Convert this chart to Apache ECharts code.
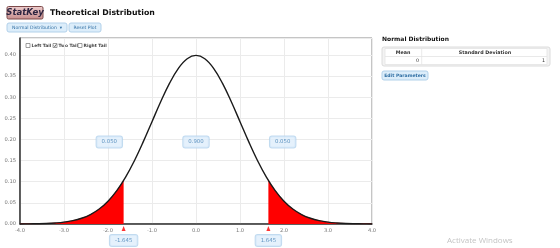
<!DOCTYPE html>
<html><head><meta charset="utf-8">
<script src="https://cdn.jsdelivr.net/npm/echarts@6/dist/echarts.min.js"></script>
<style>html,body{margin:0;padding:0;background:#fff}#c{width:560px;height:248px}</style>
</head><body><div id="c"></div>
<script>
// Curve sample points (x) and density values (y)
var xs = [-4.0,-3.8,-3.6,-3.4,-3.2,-3.0,-2.8,-2.6,-2.4,-2.2,-2.0,-1.8,-1.6,-1.4,-1.2,-1.0,-0.8,-0.6,-0.4,-0.2,0.0,0.2,0.4,0.6,0.8,1.0,1.2,1.4,1.6,1.8,2.0,2.2,2.4,2.6,2.8,3.0,3.2,3.4,3.6,3.8,4.0];
var density = [0.0001,0.0003,0.0006,0.0012,0.0024,0.0044,0.0079,0.0136,0.0224,0.0355,0.0540,0.0790,0.1109,0.1497,0.1942,0.2420,0.2897,0.3332,0.3683,0.3910,0.3989,0.3910,0.3683,0.3332,0.2897,0.2420,0.1942,0.1497,0.1109,0.0790,0.0540,0.0355,0.0224,0.0136,0.0079,0.0044,0.0024,0.0012,0.0006,0.0003,0.0001];
// Cut points and density at the cut points
var cutX = [-1.645, 1.645];
var cutY = [0.103, 0.103];
// Region probabilities and where their boxes sit
var probs = ['0.050', '0.900', '0.050'];
var probX = [-1.97, 0.0, 1.97];
var probY = [0.194, 0.194, 0.194];
var xTicks = [-4, 4, 1];
var yTicks = [0, 0.44, 0.05];

var curve = xs.map(function(x,i){return [x, density[i]];});
var leftTail = curve.filter(function(p){return p[0] < cutX[0];}).concat([[cutX[0], cutY[0]]]);
var rightTail = [[cutX[1], cutY[1]]].concat(curve.filter(function(p){return p[0] > cutX[1];}));

var FONT = 'DejaVu Sans';
var boxLabel = {
  show: true, fontFamily: FONT, fontSize: 5.4, color: '#3f7db3',
  backgroundColor: '#dfeefb', borderColor: '#b3d2ec', borderWidth: 1, borderRadius: 2,
  padding: [3, 5]
};

function btn(x, y, w, h, label, bold) {
  return [
    {type:'rect', shape:{x:x,y:y,width:w,height:h,r:2}, style:{fill:'#dcedfa', stroke:'#b2d1ea', lineWidth:1}},
    {type:'text', x:x+w/2, y:y+h/2, style:{text:label, fill:'#2f6ea3', font:(bold?'bold ':'')+'4.6px '+FONT, textAlign:'center', textVerticalAlign:'middle'}}
  ];
}
function checkbox(x, y, label, checked) {
  var g = [
    {type:'rect', shape:{x:x,y:y,width:4,height:4}, style:{fill:'#fff', stroke:'#777', lineWidth:0.7}},
    {type:'text', x:x+5.5, y:y+2, style:{text:label, fill:'#444', font:'bold 4.4px '+FONT, textVerticalAlign:'middle'}}
  ];
  if (checked) g.push({type:'polyline', shape:{points:[[x+0.8,y+2],[x+1.8,y+3.2],[x+3.4,y+0.7]]}, style:{stroke:'#333', lineWidth:0.7, fill:null}});
  return g;
}

var graphics = [
  {type:'rect', shape:{x:7,y:6.5,width:36,height:12.5,r:1.5}, style:{fill:new echarts.graphic.LinearGradient(0,0,0,1,[{offset:0,color:'#efcfcf'},{offset:1,color:'#c58c8c'}]), stroke:'#7d4a4a', lineWidth:1}},
  {type:'text', x:25, y:13, style:{text:'StatKey', fill:'#2c2440', font:'italic bold 8.5px '+FONT, textAlign:'center', textVerticalAlign:'middle'}},
  {type:'text', x:50, y:13, style:{text:'Theoretical Distribution', fill:'#111', font:'bold 7.8px '+FONT, textVerticalAlign:'middle'}},
  {type:'text', x:382, y:39.5, style:{text:'Normal Distribution', fill:'#111', font:'bold 6px '+FONT, textVerticalAlign:'middle'}},
  {type:'rect', shape:{x:382,y:47,width:168,height:19,r:2}, style:{fill:'#f3f3f3', stroke:'#dcdcdc', lineWidth:1}},
  {type:'rect', shape:{x:385,y:48.5,width:162,height:16}, style:{fill:'#fff', stroke:'#e3e3e3', lineWidth:0.8}},
  {type:'line', shape:{x1:421.7,y1:48.5,x2:421.7,y2:64.5}, style:{stroke:'#e3e3e3', lineWidth:0.8}},
  {type:'line', shape:{x1:385,y1:56.5,x2:547,y2:56.5}, style:{stroke:'#e3e3e3', lineWidth:0.8}},
  {type:'text', x:403, y:52.5, style:{text:'Mean', fill:'#333', font:'bold 4.8px '+FONT, textAlign:'center', textVerticalAlign:'middle'}},
  {type:'text', x:485, y:52.5, style:{text:'Standard Deviation', fill:'#333', font:'bold 4.8px '+FONT, textAlign:'center', textVerticalAlign:'middle'}},
  {type:'text', x:419, y:60.8, style:{text:'0', fill:'#333', font:'4.8px '+FONT, textAlign:'right', textVerticalAlign:'middle'}},
  {type:'text', x:545, y:60.8, style:{text:'1', fill:'#333', font:'4.8px '+FONT, textAlign:'right', textVerticalAlign:'middle'}},
  {type:'text', x:447, y:241, style:{text:'Activate Windows', fill:'#c4c4c4', font:'8px "Open Sans"', textVerticalAlign:'middle'}}
].concat(btn(7,23,60,9,'Normal Distribution  \u25BE',false))
 .concat(btn(69,23,32,9,'Reset Plot',false))
 .concat(btn(382,71,46,9,'Edit Parameters',true))
 .concat(checkbox(26,43.5,'Left Tail',false))
 .concat(checkbox(53,43.5,'Two Tail',true))
 .concat(checkbox(78,43.5,'Right Tail',false));

var chart = echarts.init(document.getElementById('c'), null, {renderer:'canvas'});
chart.setOption({
  animation: false,
  backgroundColor: '#fff',
  grid: {left:20, right:188, top:38, bottom:24, show:true, borderColor:'#8a8a8a', borderWidth:1},
  xAxis: {
    type:'value', min:xTicks[0], max:xTicks[1], interval:xTicks[2],
    axisLine:{show:true, lineStyle:{color:'#333', width:1.5}, onZero:false},
    axisTick:{show:false},
    splitLine:{show:true, lineStyle:{color:'#ebebeb', width:1}},
    axisLabel:{fontFamily:FONT, fontSize:5.2, color:'#777', margin:4, formatter:function(v){return v.toFixed(1);}}
  },
  yAxis: {
    type:'value', min:yTicks[0], max:yTicks[1], interval:yTicks[2],
    axisLine:{show:true, lineStyle:{color:'#333', width:1.5}, onZero:false},
    axisTick:{show:false},
    splitLine:{show:true, lineStyle:{color:'#ebebeb', width:1}},
    axisLabel:{fontFamily:FONT, fontSize:5.2, color:'#777', margin:4, showMaxLabel:false, formatter:function(v){return v.toFixed(2);}}
  },
  graphic: graphics,
  series: [
    {type:'line', data:leftTail, smooth:0.4, symbol:'none', lineStyle:{width:0.5, color:'#ff0000'}, areaStyle:{color:'#ff0000', opacity:1}, z:2},
    {type:'line', data:rightTail, smooth:0.4, symbol:'none', lineStyle:{width:0.5, color:'#ff0000'}, areaStyle:{color:'#ff0000', opacity:1}, z:2},
    {type:'line', data:curve, smooth:0.4, symbol:'none', lineStyle:{width:1.4, color:'#1a1a1a'}, z:3},
    {type:'scatter', clip:false, z:4,
     data: cutX.map(function(x){return [x, 0];}),
     symbol:'triangle', symbolSize:[4,5], symbolOffset:[0,4.5], itemStyle:{color:'#ff0000'},
     label: Object.assign({}, boxLabel, {position:'bottom', distance:4, formatter:function(p){return p.value[0].toFixed(3);}})
    },
    {type:'scatter', clip:false, z:4,
     data: probX.map(function(x,i){return [x, probY[i], probs[i]];}),
     symbolSize:0.1, itemStyle:{color:'transparent'},
     label: Object.assign({}, boxLabel, {position:'inside', formatter:function(p){return p.value[2];}})
    }
  ]
});
</script></body></html>
